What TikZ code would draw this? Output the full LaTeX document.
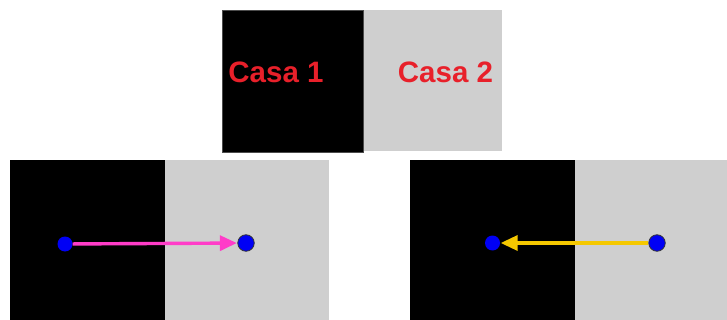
\documentclass[tikz,border=0pt]{standalone}
\usepackage{fontspec}
\setmainfont{Liberation Sans}
\usetikzlibrary{arrows.meta}
\definecolor{lightgrey}{HTML}{CFCFCF}
\definecolor{casared}{HTML}{E8202A}
\definecolor{pinkarrow}{HTML}{FF3CC8}
\definecolor{goldarrow}{HTML}{F5C800}
\definecolor{dotblue}{HTML}{0000F5}
\tikzset{
  darkcell/.style={fill=black, draw=black!70, line width=0.6pt},
  lightcell/.style={fill=lightgrey, draw=none},
  casalabel/.style={text=casared, font=\bfseries\fontsize{29.5}{31}\selectfont, inner sep=0pt},
  smalldot/.style={circle, fill=dotblue, inner sep=0pt, minimum size=15pt},
  bigdot/.style={circle, fill=dotblue, draw=black!80, line width=0.8pt, inner sep=0pt, minimum size=16.5pt},
  move/.style={line width=3.4pt, -{Triangle[length=17pt,width=15pt]}, shorten >=0.5pt},
}
\begin{document}
\begin{tikzpicture}[x=1pt, y=-1pt]
  \useasboundingbox (0,0) rectangle (727,320);
  % two houses side by side
  \fill[lightcell] (363,10) rectangle (502,151);
  \filldraw[darkcell] (222,10) rectangle (363,152);
  \node[casalabel] (casa1) at (276,72) {Casa 1};
  \node[casalabel] (casa2) at (445.5,72) {Casa 2};
  % move from house 1 to house 2
  \fill[darkcell, draw=none] (10,160) rectangle (165,320);
  \fill[lightcell] (165,160) rectangle (329,320);
  \node[smalldot] (a1) at (65,244) {};
  \node[bigdot] (b1) at (246,243) {};
  \draw[move, pinkarrow] (a1) -- (b1);
  % move from house 2 to house 1
  \fill[darkcell, draw=none] (410,160) rectangle (575,320);
  \fill[lightcell] (575,160) rectangle (727,320);
  \node[smalldot] (a2) at (492.5,243) {};
  \node[bigdot] (b2) at (657,243) {};
  \draw[move, goldarrow] (b2) -- (a2);
\end{tikzpicture}
\end{document}
